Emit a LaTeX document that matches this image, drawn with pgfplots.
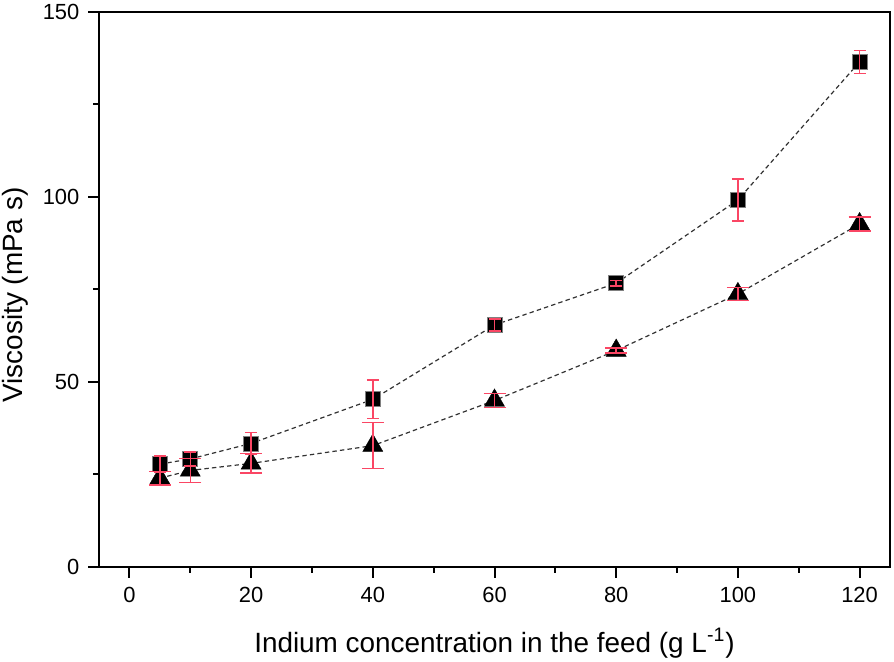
\documentclass[border=0pt]{standalone}
\usepackage{pgfplots}
\pgfplotsset{compat=1.18}
\usepackage{pgfplotstable}
\usepackage{fontspec}
\setmainfont{Liberation Sans}
\definecolor{errred}{RGB}{250,70,100}
\definecolor{linegray}{RGB}{50,50,50}
\pgfplotstableread{
x y e
5 27.8 2.2
10 29.2 1.9
20 33.4 2.9
40 45.3 5.2
60 65.4 1.6
80 76.7 0.8
100 99.2 5.7
120 136.5 3.1
}\sq
\pgfplotstableread{
x y e
5 24.0 1.8
10 26.1 3.2
20 28.0 2.6
40 32.8 6.2
60 45.0 1.9
80 58.5 0.7
100 73.8 1.7
120 92.7 1.9
}\tri
\begin{document}
\begin{tikzpicture}
\begin{axis}[
 set layers,
 at={(0,0)}, anchor=south west,
 scale only axis, width=395.5bp, height=277.5bp,
 xmin=-5, xmax=125, ymin=0, ymax=150,
 xtick={0,20,...,120}, minor xtick={10,30,...,110},
 ytick={0,50,100,150}, minor ytick={25,75,125},
 tick align=outside, xtick pos=bottom, ytick pos=left,
 major tick length=5.3bp, minor tick length=2.8bp,
 axis line style={line width=1bp},
 every tick/.style={black, line width=1bp},
 tick label style={font=\fontsize{11}{13}\selectfont},
 xticklabel style={yshift=-1.5bp},
 yticklabel style={xshift=-1bp},
 /pgf/number format/assume math mode=true,
 label style={font=\fontsize{14}{16}\selectfont},
 xlabel={Indium concentration in the feed (g L\textsuperscript{-1})},
 ylabel={Viscosity (mPa s)},
 xlabel style={at={(axis description cs:0.5,0)}, anchor=base, yshift=-42.5bp},
 ylabel style={at={(axis description cs:0,0.49)}, anchor=base, yshift=38.5bp},
 clip=false,
]
\addplot[color=linegray, line width=0.6bp, dash pattern=on 2.2bp off 1.6bp,
  mark=square*, mark size=3.75bp, mark options={solid, fill=black, draw=gray, line width=0.4bp}]
  table[x=x,y=y] {\sq};
\addplot[color=linegray, line width=0.6bp, dash pattern=on 2.2bp off 1.6bp,
  mark=triangle*, mark size=5.8bp, mark options={solid, fill=black, draw=black, line width=0.2bp}]
  table[x=x,y=y] {\tri};
\addplot[on layer=axis foreground, draw=none, mark=none, forget plot,
  error bars/.cd, y dir=both, y explicit, error mark=-,
  error bar style={draw=errred, solid, line width=0.7bp},
  error mark options={draw=errred, solid, rotate=90, mark size=3bp, line width=0.7bp}]
  table[x=x,y=y,y error=e] {\sq};
\addplot[on layer=axis foreground, draw=none, mark=none, forget plot,
  error bars/.cd, y dir=both, y explicit, error mark=-,
  error bar style={draw=errred, solid, line width=0.7bp},
  error mark options={draw=errred, solid, rotate=90, mark size=5.5bp, line width=0.7bp}]
  table[x=x,y=y,y error=e] {\tri};
\end{axis}
\pgfresetboundingbox
\path[use as bounding box] (-49.5bp,-47.5bp) rectangle (397.5bp,283.5bp);
\end{tikzpicture}
\end{document}
